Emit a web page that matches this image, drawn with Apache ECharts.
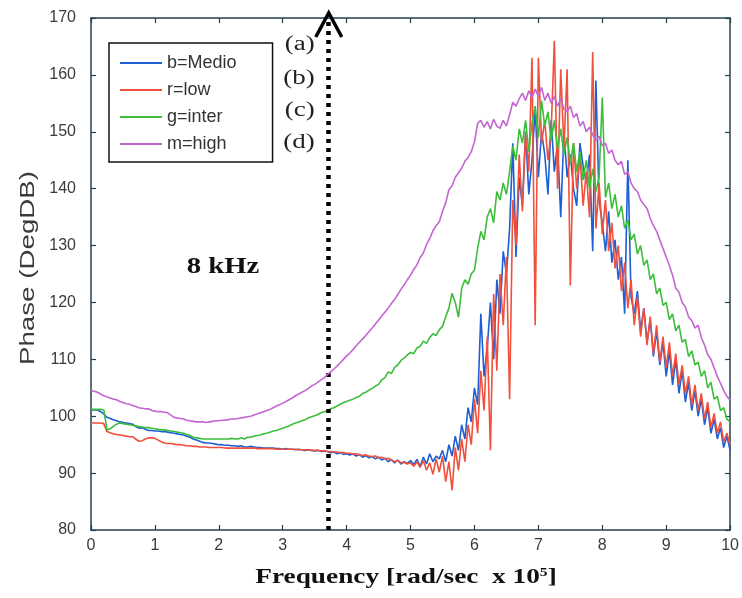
<!DOCTYPE html>
<html><head><meta charset="utf-8">
<script src="https://cdn.jsdelivr.net/npm/echarts@6/dist/echarts.min.js"></script>
<style>html,body{margin:0;padding:0;background:#fff}#c{width:742px;height:598px}</style>
</head><body><div id="c"></div>
<script>
// Frequency grid [rad/sec x 10^5]
const freq = [
0,0.05,0.1,0.15,0.2,0.25,0.3,0.35,0.4,0.45,
0.5,0.55,0.6,0.65,0.7,0.75,0.8,0.85,0.9,0.95,
1,1.05,1.1,1.15,1.2,1.25,1.3,1.35,1.4,1.45,
1.5,1.55,1.6,1.65,1.7,1.75,1.8,1.85,1.9,1.95,
2,2.05,2.1,2.15,2.2,2.25,2.3,2.35,2.4,2.45,
2.5,2.55,2.6,2.65,2.7,2.75,2.8,2.85,2.9,2.95,
3,3.05,3.1,3.15,3.2,3.25,3.3,3.35,3.4,3.45,
3.5,3.55,3.6,3.65,3.7,3.75,3.8,3.85,3.9,3.95,
4,4.05,4.1,4.15,4.2,4.25,4.3,4.35,4.4,4.45,
4.5,4.55,4.6,4.65,4.7,4.75,4.8,4.85,4.9,4.95,
5,5.05,5.1,5.15,5.2,5.25,5.3,5.35,5.4,5.45,
5.5,5.55,5.6,5.65,5.7,5.75,5.8,5.85,5.9,5.95,
6,6.05,6.1,6.15,6.2,6.25,6.3,6.35,6.4,6.45,
6.5,6.55,6.6,6.65,6.7,6.75,6.8,6.85,6.9,6.95,
7,7.05,7.1,7.15,7.2,7.25,7.3,7.35,7.4,7.45,
7.5,7.55,7.6,7.65,7.7,7.75,7.8,7.85,7.9,7.95,
8,8.05,8.1,8.15,8.2,8.25,8.3,8.35,8.4,8.45,
8.5,8.55,8.6,8.65,8.7,8.75,8.8,8.85,8.9,8.95,
9,9.05,9.1,9.15,9.2,9.25,9.3,9.35,9.4,9.45,
9.5,9.55,9.6,9.65,9.7,9.75,9.8,9.85,9.9,9.95,
10];

// b = Medio
const medio = [
101.1,101.1,101.1,100.8,100.4,99.8,99.6,99.4,99.2,99.0,
98.9,98.8,98.7,98.6,98.2,97.9,98.0,97.7,97.5,97.5,
97.4,97.4,97.3,97.3,97.2,97.1,97.0,96.9,96.8,96.7,
96.5,96.3,96.0,95.8,95.6,95.4,95.3,95.3,95.2,95.1,
95.0,95.0,94.9,94.9,94.8,94.8,94.7,94.8,94.6,94.6,
94.7,94.6,94.5,94.5,94.4,94.4,94.4,94.4,94.3,94.3,
94.2,94.3,94.2,94.2,94.1,94.2,94.1,94.0,94.1,94.0,
93.9,94.0,93.8,93.9,93.8,93.6,93.7,93.4,93.6,93.3,
93.4,93.2,93.4,93.0,93.3,92.8,93.1,92.7,92.9,92.5,
92.8,92.3,92.6,92.0,92.4,91.8,92.3,91.6,92.0,91.7,
92.2,91.5,92.4,91.2,92.8,91.6,93.4,92.0,93.0,92.5,
94.0,92.0,95.0,93.0,96.5,94.0,98.5,96.0,101.5,99.0,
105.0,102.0,118.0,107.0,112.0,120.0,110.0,124.0,118.0,129.0,
125.0,133.0,148.0,128.0,142.0,137.0,150.0,139.0,145.0,154.0,
142.0,150.0,146.0,139.0,152.0,143.0,148.0,135.0,150.0,142.0,
146.0,140.0,137.0,148.0,144.0,141.0,146.0,129.0,159.0,138.0,
134.0,129.0,136.0,127.0,131.0,124.0,128.0,118.0,145.0,121.0,
118.0,122.0,115.0,119.0,113.0,117.0,110.5,115.0,109.0,113.0,
107.0,111.5,105.5,110.0,104.0,108.0,102.5,106.0,101.0,104.5,
100.0,103.0,98.5,101.5,97.0,99.5,96.0,98.0,94.5,96.5,
94.0];

// r = low
const low = [
98.8,98.8,98.8,98.8,98.7,97.3,97.1,96.9,96.8,96.7,
96.6,96.5,96.4,96.4,96.0,95.6,95.7,96.0,96.2,96.2,
96.1,95.8,95.5,95.3,95.2,95.2,95.1,95.0,95.0,94.9,
94.8,94.8,94.7,94.7,94.6,94.6,94.6,94.5,94.5,94.5,
94.5,94.5,94.4,94.4,94.4,94.4,94.4,94.4,94.4,94.4,
94.4,94.4,94.3,94.3,94.3,94.3,94.3,94.3,94.2,94.2,
94.2,94.2,94.2,94.2,94.2,94.1,94.1,94.1,94.1,94.0,
94.0,94.0,93.9,93.9,93.8,93.8,93.7,93.7,93.6,93.6,
93.5,93.5,93.3,93.4,93.2,93.1,93.2,93.0,92.9,93.0,
92.7,92.8,92.5,92.6,92.3,92.0,92.2,91.8,91.9,91.6,
91.8,91.2,92.0,91.0,92.2,90.5,91.8,89.8,92.5,90.2,
93.0,88.5,92.0,87.0,94.5,90.5,96.0,92.0,98.5,95.0,
103.0,97.0,108.0,101.0,114.0,94.0,121.5,108.0,125.0,116.0,
128.0,103.0,138.0,130.0,146.0,136.0,150.0,143.0,163.0,116.0,
163.0,148.0,152.0,145.0,150.0,166.0,140.0,161.0,147.0,161.0,
123.0,148.0,140.0,146.0,137.0,143.0,135.0,164.0,133.0,141.0,
132.0,138.0,129.0,134.0,126.0,130.0,122.0,127.0,119.0,124.0,
116.0,121.0,114.0,119.0,112.5,117.5,111.0,116.0,109.5,114.0,
108.5,113.0,107.0,111.0,105.5,109.0,104.0,107.0,102.0,105.5,
101.0,104.0,99.5,102.5,98.0,100.5,97.0,99.0,95.5,97.0,
95.0];

// g = inter
const inter = [
101.2,101.2,101.2,101.2,101.1,97.6,97.8,98.2,98.6,98.8,
98.7,98.6,98.5,98.4,98.3,98.2,98.1,98.0,98.0,97.9,
97.8,97.7,97.6,97.6,97.5,97.4,97.3,97.2,97.1,97.0,
96.8,96.6,96.3,96.2,96.1,96.0,96.0,96.0,96.0,96.0,
96.0,96.0,96.0,96.0,96.1,96.0,96.0,96.2,96.0,96.3,
96.3,96.5,96.6,96.7,96.9,97.0,97.2,97.4,97.5,97.7,
97.9,98.1,98.3,98.6,98.8,99.0,99.2,99.4,99.7,99.9,
100.1,100.3,100.6,100.8,101.0,101.3,101.5,101.8,102.1,102.4,
102.6,102.8,103.0,103.3,103.5,104.0,104.2,104.6,104.9,105.3,
105.6,106.4,106.8,107.8,107.5,108.6,109.0,109.8,110.2,110.8,
111.2,111.0,112.0,112.3,113.2,112.8,113.8,114.5,114.2,115.2,
115.8,117.5,119.0,121.6,120.0,117.4,122.5,124.0,123.2,125.0,
125.7,129.5,132.5,131.0,135.0,136.5,134.0,139.5,138.0,141.0,
139.0,143.0,147.5,145.0,150.5,148.0,152.0,146.5,151.5,154.5,
149.0,155.5,151.0,153.5,148.5,152.0,147.0,150.5,146.0,149.0,
144.5,148.0,143.0,146.5,141.5,145.0,140.0,143.5,139.5,142.0,
156.0,138.5,141.0,136.5,139.0,135.0,137.0,133.0,134.5,131.0,
132.0,128.5,130.0,126.5,127.5,124.0,125.0,121.5,122.5,119.5,
120.0,117.0,118.0,115.0,116.0,113.0,113.5,110.5,111.5,109.0,
109.5,107.0,108.0,105.0,106.0,103.0,103.5,101.0,101.5,99.5,
99.0];

// m = high
const high = [
104.5,104.4,104.2,103.9,103.6,103.4,103.2,103.0,102.9,102.6,
102.4,102.2,102.1,101.9,101.7,101.5,101.4,101.3,101.3,101.0,
100.9,100.8,100.8,100.7,100.6,100.2,99.8,99.7,99.6,99.5,
99.3,99.2,99.1,99.0,99.0,99.0,98.9,99.0,99.1,99.2,
99.2,99.3,99.3,99.4,99.5,99.5,99.6,99.7,99.8,99.9,
100.0,100.2,100.4,100.6,100.8,101.0,101.2,101.5,101.8,102.0,
102.3,102.6,102.9,103.2,103.6,103.9,104.2,104.5,104.9,105.3,
105.6,106.0,106.4,106.8,107.3,107.8,108.3,108.8,109.4,110.0,
110.6,111.1,111.7,112.4,113.0,113.6,114.2,114.9,115.5,116.2,
116.9,117.6,118.3,119.0,119.8,120.5,121.4,122.3,123.1,124.0,
124.8,125.8,126.6,127.9,128.7,130.2,131.2,132.6,133.5,134.2,
136.0,137.5,139.8,140.5,142.0,142.8,143.6,144.8,145.5,146.5,
148.2,151.5,152.0,150.8,151.8,150.5,152.2,151.0,150.6,152.0,
151.0,153.0,155.2,154.5,155.8,156.8,155.5,157.2,156.0,157.5,
156.2,157.8,155.5,156.8,155.0,156.2,154.5,155.8,154.0,153.5,
154.5,152.5,153.2,151.0,151.8,150.0,150.8,149.5,148.5,149.2,
147.5,148.0,146.2,146.8,145.0,144.2,144.8,142.5,143.0,141.0,
140.0,139.5,138.0,137.2,136.5,134.8,133.5,132.5,131.0,129.5,
128.0,126.5,124.8,122.5,121.8,120.0,119.2,117.5,116.8,115.5,
116.0,113.8,112.5,110.8,110.0,108.5,107.0,105.8,104.5,103.5,
102.8];

const seriesNames = ['b=Medio', 'r=low', 'g=inter', 'm=high'];
const seriesColors = ['#1d5fd4', '#f0503c', '#3cbe3c', '#c466d2'];
const seriesValues = [medio, low, inter, high];
const markerFreq = 3.72;     // 8 kHz marker
const markerLabel = '8 kHz';
const caseLabels = ['(a)', '(b)', '(c)', '(d)'];
const xRange = [0, 10, 1];
const yRange = [80, 170, 10];

const axisColor = '#24404f';
const chart = echarts.init(document.getElementById('c'), null, {renderer: 'canvas'});

function baseAxis(range, pos, showLabel, margin) {
  return {
    type: 'value', min: range[0], max: range[1], interval: range[2], position: pos,
    axisLine: {show: true, onZero: false, lineStyle: {color: axisColor, width: 1.5}},
    axisTick: {show: true, inside: true, length: 5, lineStyle: {color: axisColor, width: 1.2}},
    axisLabel: {show: showLabel, color: '#3a3a3a', fontSize: 16, fontFamily: 'Liberation Sans', margin: margin},
    splitLine: {show: false}
  };
}

const series = seriesNames.map((n, k) => ({
  name: n, type: 'line', symbol: 'none', showSymbol: false,
  data: freq.map((x, i) => [x, seriesValues[k][i]]),
  lineStyle: {color: seriesColors[k], width: 1.6},
  itemStyle: {color: seriesColors[k]},
  animation: false, z: 2 + k
}));
series[3].markLine = {
  silent: true, symbol: ['none', 'none'], animation: false,
  label: {show: false},
  lineStyle: {color: '#000', width: 4.5, type: [4, 5]},
  data: [[{coord: [markerFreq, yRange[0]]}, {coord: [markerFreq, yRange[1]]}]]
};

chart.setOption({
  animation: false,
  grid: {left: 91, right: 5, top: 18, bottom: 68},
  xAxis: [baseAxis(xRange, 'bottom', true, 8), baseAxis(xRange, 'top', false, 8)],
  yAxis: [baseAxis(yRange, 'left', true, 15), baseAxis(yRange, 'right', false, 8)],
  legend: {
    data: seriesNames, orient: 'vertical', left: 109, top: 43,
    icon: 'rect', itemWidth: 42, itemHeight: 2, itemGap: 7,
    padding: [10, 36, 8, 11],
    backgroundColor: '#fff', borderColor: '#111', borderWidth: 1.5,
    textStyle: {fontFamily: 'Liberation Sans', fontSize: 18, color: '#333', lineHeight: 20},
    selectedMode: false
  },
  series: series
});

const markTop = chart.convertToPixel({xAxisIndex: 0, yAxisIndex: 0}, [markerFreq, yRange[1]]);
const tipX = markTop[0], tipY = markTop[1] - 5;
const graphics = [
  {type: 'polyline', z: 20, shape: {points: [[tipX - 13, tipY + 24], [tipX, tipY], [tipX + 13, tipY + 24]]},
   style: {stroke: '#000', lineWidth: 3.5, fill: null}},
  {type: 'text', z: 20, x: 223, y: 267, scaleX: 1.25,
   style: {text: markerLabel, font: 'bold 23px "Liberation Serif"', fill: '#111', textAlign: 'center', textVerticalAlign: 'middle'}},
  {type: 'text', z: 20, x: 28, y: 268, rotation: Math.PI / 2, scaleX: 1.32,
   style: {text: 'Phase (DegDB)', font: '21px "Liberation Sans"', fill: '#3a3a3a', textAlign: 'center', textVerticalAlign: 'middle'}},
  {type: 'text', z: 20, x: 406, y: 578, scaleX: 1.3,
   style: {text: '{a|Frequency [rad/sec  x 10}{s|5}{a|]}', textAlign: 'center', textVerticalAlign: 'middle',
     rich: {a: {font: 'bold 21px "Liberation Serif"', fill: '#111'}, s: {font: 'bold 12px "Liberation Serif"', fill: '#111', verticalAlign: 'top', padding: [0, 0, 10, 0]}}}}
];
const caseY = [45, 79, 111, 143];
caseLabels.forEach((t, i) => graphics.push({type: 'text', z: 20, x: tipX - 14, y: caseY[i], scaleX: 1.35,
  style: {text: t, font: '20px "Liberation Serif"', fill: '#222', textAlign: 'right', textVerticalAlign: 'middle'}}));
chart.setOption({graphic: graphics});
</script>
</body></html>
